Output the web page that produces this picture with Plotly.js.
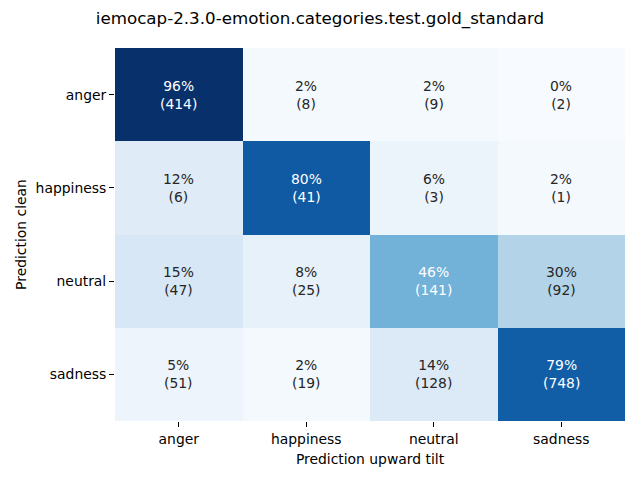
<!DOCTYPE html>
<html>
<head>
<meta charset="utf-8">
<script src="https://cdn.plot.ly/plotly-3.0.1.min.js"></script>
<style>html,body{margin:0;padding:0;background:#fff;}#chart{width:640px;height:480px;}</style>
</head>
<body>
<div id="chart"></div>
<script>
// Data
const titleText = "iemocap-2.3.0-emotion.categories.test.gold_standard";
const xLabels = ["anger", "happiness", "neutral", "sadness"];   // Prediction upward tilt
const yLabels = ["anger", "happiness", "neutral", "sadness"];   // Prediction clean
const countsAnger     = [414, 8, 9, 2];
const countsHappiness = [6, 41, 3, 1];
const countsNeutral   = [47, 25, 141, 92];
const countsSadness   = [51, 19, 128, 748];

const counts = [countsAnger, countsHappiness, countsNeutral, countsSadness];
const pct = counts.map(r => { const s = r.reduce((a, b) => a + b, 0); return r.map(v => 100 * v / s); });

// matplotlib Blues
const bluesStops = [
  [0.0, "#f7fbff"], [0.125, "#deebf7"], [0.25, "#c6dbef"], [0.375, "#9ecae1"],
  [0.5, "#6baed6"], [0.625, "#4292c6"], [0.75, "#2171b5"], [0.875, "#08519c"], [1.0, "#08306b"]
];
function hex2rgb(h){ return [1,3,5].map(i => parseInt(h.substr(i,2),16)); }
function bluesAt(t){
  t = Math.max(0, Math.min(1, t));
  for (let i = 0; i < bluesStops.length - 1; i++) {
    const [a, ca] = bluesStops[i], [b, cb] = bluesStops[i+1];
    if (t <= b) {
      const f = (t - a) / (b - a), A = hex2rgb(ca), B = hex2rgb(cb);
      return A.map((v, k) => v + f * (B[k] - v));
    }
  }
  return hex2rgb(bluesStops[bluesStops.length-1][1]);
}
function lum(rgb){
  const c = rgb.map(v => { v /= 255; return v <= 0.03928 ? v / 12.92 : Math.pow((v + 0.055) / 1.055, 2.4); });
  return 0.2126 * c[0] + 0.7152 * c[1] + 0.0722 * c[2];
}

const flat = pct.flat();
const zmin = Math.min(...flat), zmax = Math.max(...flat);

const annotations = [];
pct.forEach((row, i) => row.forEach((v, j) => {
  const col = bluesAt((v - zmin) / (zmax - zmin));
  annotations.push({
    x: xLabels[j], y: yLabels[i], xref: "x", yref: "y", showarrow: false,
    text: Math.round(v) + "%<br>(" + counts[i][j] + ")",
    font: { family: "DejaVu Sans", size: 13.9, color: lum(col) > 0.408 ? "#262626" : "#ffffff" }
  });
}));

const trace = {
  type: "heatmap",
  x: xLabels, y: yLabels, z: pct,
  zmin: zmin, zmax: zmax,
  colorscale: bluesStops,
  showscale: false,
  hoverinfo: "skip"
};

const layout = {
  width: 640, height: 480,
  margin: { l: 115, r: 15, t: 48, b: 59 },
  paper_bgcolor: "#fff", plot_bgcolor: "#fff",
  font: { family: "DejaVu Sans", size: 13.9, color: "#000" },
  title: { text: titleText, x: 0.5, xanchor: "center", y: 1 - 18/480, yanchor: "middle",
           font: { family: "DejaVu Sans", size: 16.7, color: "#000" } },
  xaxis: {
    title: { text: "Prediction upward tilt", standoff: 8, font: { size: 13.9 } },
    ticks: "outside", ticklen: 5, tickcolor: "#000", tickwidth: 1,
    showgrid: false, zeroline: false, showline: false, fixedrange: true
  },
  yaxis: {
    title: { text: "Prediction clean", standoff: 5, font: { size: 13.9 } },
    autorange: "reversed",
    ticks: "outside", ticklen: 5, tickcolor: "#000", tickwidth: 1,
    showgrid: false, zeroline: false, showline: false, fixedrange: true
  },
  annotations: annotations
};

Plotly.newPlot("chart", [trace], layout, { displayModeBar: false, staticPlot: true });
</script>
</body>
</html>
